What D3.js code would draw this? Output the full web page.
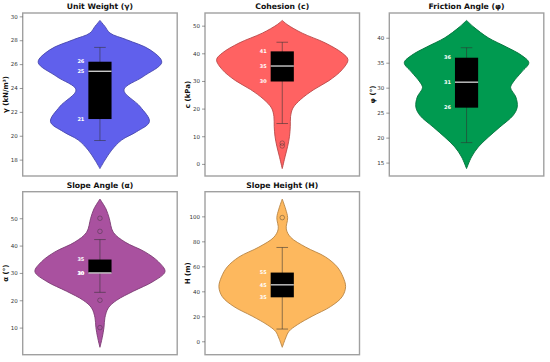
<!DOCTYPE html>
<html>
<head>
<meta charset="utf-8">
<script src="https://cdn.jsdelivr.net/npm/d3@7"></script>
<style>
  body { margin: 0; background: #fff; }
  svg { font-family: "DejaVu Sans", sans-serif; }
</style>
</head>
<body>
<div id="chart"></div>
<script>
// panel titles / axis labels
const titles = ["Unit Weight (γ)", "Cohesion (c)", "Friction Angle (φ)", "Slope Angle (α)", "Slope Height (H)"];
const yLabels = ["γ (kN/m³)", "c (kPa)", "φ (°)", "α (°)", "H (m)"];
const colors = ["#6060ec", "#ff6262", "#009a50", "#a9519f", "#fdb85e"];

// violin outlines: [value, half width]
const unitWeightDensity = [[17.25,0],[17.96,0.032],[18.8,0.076],[19.64,0.14],[20.34,0.237],[21.18,0.32],[22.44,0.26],[23.84,0.155],[24.96,0.28],[26.16,0.40],[27.2,0.324],[28.04,0.173],[28.6,0.065],[29.16,0.032],[29.66,0]];
const cohesionDensity = [[-1.7,0],[2.8,0.019],[6.4,0.035],[10,0.047],[13.6,0.052],[17.2,0.054],[20.2,0.069],[23.3,0.119],[26.9,0.205],[30.1,0.302],[34.1,0.388],[37.7,0.425],[40.1,0.388],[43.7,0.28],[47.3,0.129],[50.4,0.032],[51.9,0]];
const frictionDensity = [[13.8,0],[16.13,0.032],[18.13,0.076],[20.07,0.14],[22.13,0.216],[24.47,0.302],[26.13,0.328],[28.13,0.319],[30,0.285],[31.13,0.302],[33.13,0.356],[35,0.403],[36.47,0.356],[38.13,0.259],[40,0.14],[42.13,0.047],[43.47,0]];
const slopeAngleDensity = [[2.8,0],[6.4,0.015],[10,0.026],[13.6,0.032],[17.2,0.054],[20,0.108],[23.3,0.216],[26.9,0.345],[30.5,0.421],[34.1,0.378],[37.7,0.291],[41.3,0.162],[44.9,0.086],[50,0.06],[53.4,0.039],[57,0]];
const slopeHeightDensity = [[-4.8,0],[2.6,0.022],[7.9,0.043],[13.2,0.097],[20.1,0.194],[27.8,0.313],[35.7,0.388],[43.7,0.41],[51.6,0.393],[59.5,0.356],[67.5,0.28],[75.4,0.151],[83.3,0.054],[89.9,0.026],[98.9,0.035],[105.8,0.022],[113.8,0]];
const densities = [unitWeightDensity, cohesionDensity, frictionDensity, slopeAngleDensity, slopeHeightDensity];

// box stats: [whisker low, Q1, median, Q3, whisker high]
const boxStats = [
  [19.6, 21.4, 25.4, 26.2, 27.4],
  [14.6, 29.8, 35.4, 40.7, 44.0],
  [19.0, 26.0, 31.1, 36.0, 38.0],
  [22.9, 30.0, 30.0, 34.9, 42.2],
  [9.8, 35.2, 45.2, 55.0, 75.1]
];
const outliers = [[], [7.5, 6.5], [], [50, 45.2, 20, 10], [99]];

const ticks = [
  [18, 20, 22, 24, 26, 28, 30],
  [0, 10, 20, 30, 40, 50],
  [15, 20, 25, 30, 35, 40],
  [10, 20, 30, 40, 50],
  [0, 20, 40, 60, 80, 100]
];

const W = 550, H = 362;
const panelW = 154.5, panelH = 163;
const lefts = [22.7, 205, 389.3];
const tops = [13, 191.7];

const svg = d3.select('#chart').append('svg')
  .attr('width', W).attr('height', H);

const fmt = d3.format('.0f');

titles.forEach(function(title, i) {
  const px = lefts[i % 3], py = tops[Math.floor(i / 3)];
  const g = svg.append('g').attr('transform', 'translate(' + px + ',' + py + ')');

  const dens = densities[i];
  const ext = d3.extent(dens, d => d[0]);
  const pad = (ext[1] - ext[0]) * 0.05;
  const y = d3.scaleLinear().domain([ext[0] - pad, ext[1] + pad]).range([panelH, 0]);
  const x = d3.scaleLinear().domain([-0.5, 0.5]).range([0, panelW]);

  // violin
  const area = d3.area()
    .y(d => y(d[0]))
    .x0(d => x(-d[1]))
    .x1(d => x(d[1]))
    .curve(d3.curveCatmullRom.alpha(0.5));
  g.append('path')
    .datum(dens)
    .attr('d', area)
    .attr('fill', colors[i])
    .attr('stroke', d3.color(colors[i]).darker(0.9))
    .attr('stroke-width', 0.9);

  const s = boxStats[i];
  const bw = 0.15;
  // whiskers
  g.append('line').attr('x1', x(0)).attr('x2', x(0)).attr('y1', y(s[0])).attr('y2', y(s[4]))
    .attr('stroke', '#333').attr('stroke-opacity', 0.7).attr('stroke-width', 0.8);
  [s[0], s[4]].forEach(function(v) {
    g.append('line').attr('x1', x(-bw / 4)).attr('x2', x(bw / 4)).attr('y1', y(v)).attr('y2', y(v))
      .attr('stroke', '#333').attr('stroke-opacity', 0.7).attr('stroke-width', 0.8);
  });
  // box
  g.append('rect')
    .attr('x', x(-bw / 2)).attr('width', x(bw / 2) - x(-bw / 2))
    .attr('y', y(s[3])).attr('height', y(s[1]) - y(s[3]))
    .attr('fill', '#000');
  g.append('line').attr('x1', x(-bw / 2)).attr('x2', x(bw / 2)).attr('y1', y(s[2])).attr('y2', y(s[2]))
    .attr('stroke', '#c8c8c8').attr('stroke-width', 1.4);

  // fliers
  g.selectAll('circle.fl').data(outliers[i]).enter().append('circle')
    .attr('cx', x(0)).attr('cy', d => y(d)).attr('r', 2.3)
    .attr('fill', 'none').attr('stroke', '#333').attr('stroke-opacity', 0.6).attr('stroke-width', 0.7);

  // quartile labels
  [s[3], s[2], s[1]].forEach(function(v) {
    g.append('text')
      .attr('x', x(-bw / 2) - 4).attr('y', y(v))
      .attr('text-anchor', 'end').attr('dy', '0.35em')
      .attr('fill', '#fff').attr('font-weight', 'bold').attr('font-size', 5)
      .text(fmt(v));
  });

  // frame
  g.append('rect').attr('width', panelW).attr('height', panelH)
    .attr('fill', 'none').attr('stroke', '#a0a0a0').attr('stroke-width', 1.4);

  // y axis
  const ax = g.append('g').call(d3.axisLeft(y).tickValues(ticks[i]).tickSize(3).tickPadding(2));
  ax.select('.domain').remove();
  ax.selectAll('line').attr('stroke', '#555').attr('stroke-width', 0.6);
  ax.selectAll('text').attr('font-size', 5.5).attr('fill', '#333')
    .attr('font-family', '"DejaVu Sans", sans-serif');

  g.append('text')
    .attr('transform', 'translate(-17,' + panelH / 2 + ') rotate(-90)')
    .attr('text-anchor', 'middle').attr('dy', '0.35em')
    .attr('font-size', 7).attr('font-weight', 'bold').attr('fill', '#111')
    .text(yLabels[i]);

  g.append('text')
    .attr('x', panelW / 2).attr('y', -4)
    .attr('text-anchor', 'middle')
    .attr('font-size', 7.7).attr('font-weight', 'bold').attr('fill', '#111')
    .text(title);
});
</script>
</body>
</html>
